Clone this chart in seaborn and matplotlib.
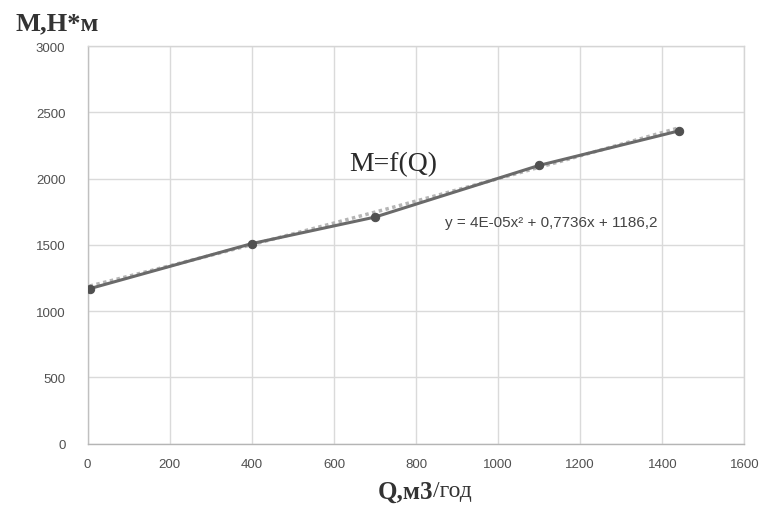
import numpy as np
import pandas as pd
import matplotlib.pyplot as plt
import seaborn as sns

# data
q_vals = [5, 400, 700, 1100, 1440]
m_vals = [1170, 1510, 1710, 2100, 2360]
trend_coefs = [4e-05, 0.7736, 1186.2]  # from the chart's trendline label
x_ticks = [0, 200, 400, 600, 800, 1000, 1200, 1400, 1600]
y_ticks = [0, 500, 1000, 1500, 2000, 2500, 3000]

SERIF = ["Liberation Serif", "DejaVu Serif"]


def main():
    sns.set_style("whitegrid")
    plt.rcParams['font.family'] = ['Liberation Sans', 'DejaVu Sans']

    df = pd.DataFrame({"Q": q_vals, "M": m_vals})

    fig = plt.figure(figsize=(7.62, 5.06), dpi=100)
    ax = fig.add_axes([0.115, 0.121, 0.862, 0.786])

    # polynomial trendline (dotted, light)
    xs = np.linspace(min(q_vals), max(q_vals), 200)
    ys = np.polyval(trend_coefs, xs)
    ax.plot(xs, ys, color="#b5b5b5", linestyle=(0, (1, 1)), linewidth=2.5, zorder=2)

    sns.lineplot(data=df, x="Q", y="M", color="#6a6a6a", linewidth=2.2,
                 marker="o", markersize=6, markerfacecolor="#505050",
                 markeredgecolor="#505050", ax=ax, zorder=3)

    ax.set_xlim(0, 1600)
    ax.set_ylim(0, 3000)
    ax.set_xticks(x_ticks)
    ax.set_yticks(y_ticks)
    ax.tick_params(axis="both", labelsize=9.5, colors="#505050", length=0)
    ax.tick_params(axis="y", pad=16)
    ax.tick_params(axis="x", pad=10)
    ax.grid(True, color="#dadada", linewidth=1.0)
    for sp in ax.spines.values():
        sp.set_color("#d5d5d5")
        sp.set_linewidth(1.0)
    ax.spines["bottom"].set_color("#b5b5b5")
    ax.spines["left"].set_color("#c0c0c0")

    ax.set_xlabel("")
    ax.set_ylabel("")
    fig.text(0.568, 0.028, "Q,м3", family=SERIF, fontsize=18, fontweight="bold",
             color="#333333", ha="right", va="center")
    fig.text(0.568, 0.028, "/год", family=SERIF, fontsize=17,
             color="#333333", ha="left", va="center")
    fig.text(0.02, 0.952, "M,H*м", family=SERIF,
             fontsize=19, fontweight="bold", color="#333333", ha="left", va="center")

    ax.text(744, 2110, "M=f(Q)", family=SERIF, fontsize=20,
            color="#2a2a2a", ha="center", va="center")
    ax.text(1130, 1670, "y = 4E-05x² + 0,7736x + 1186,2", fontsize=11,
            color="#444444", ha="center", va="center")

    fig.savefig("out.png", dpi=100)


if __name__ == "__main__":
    main()
